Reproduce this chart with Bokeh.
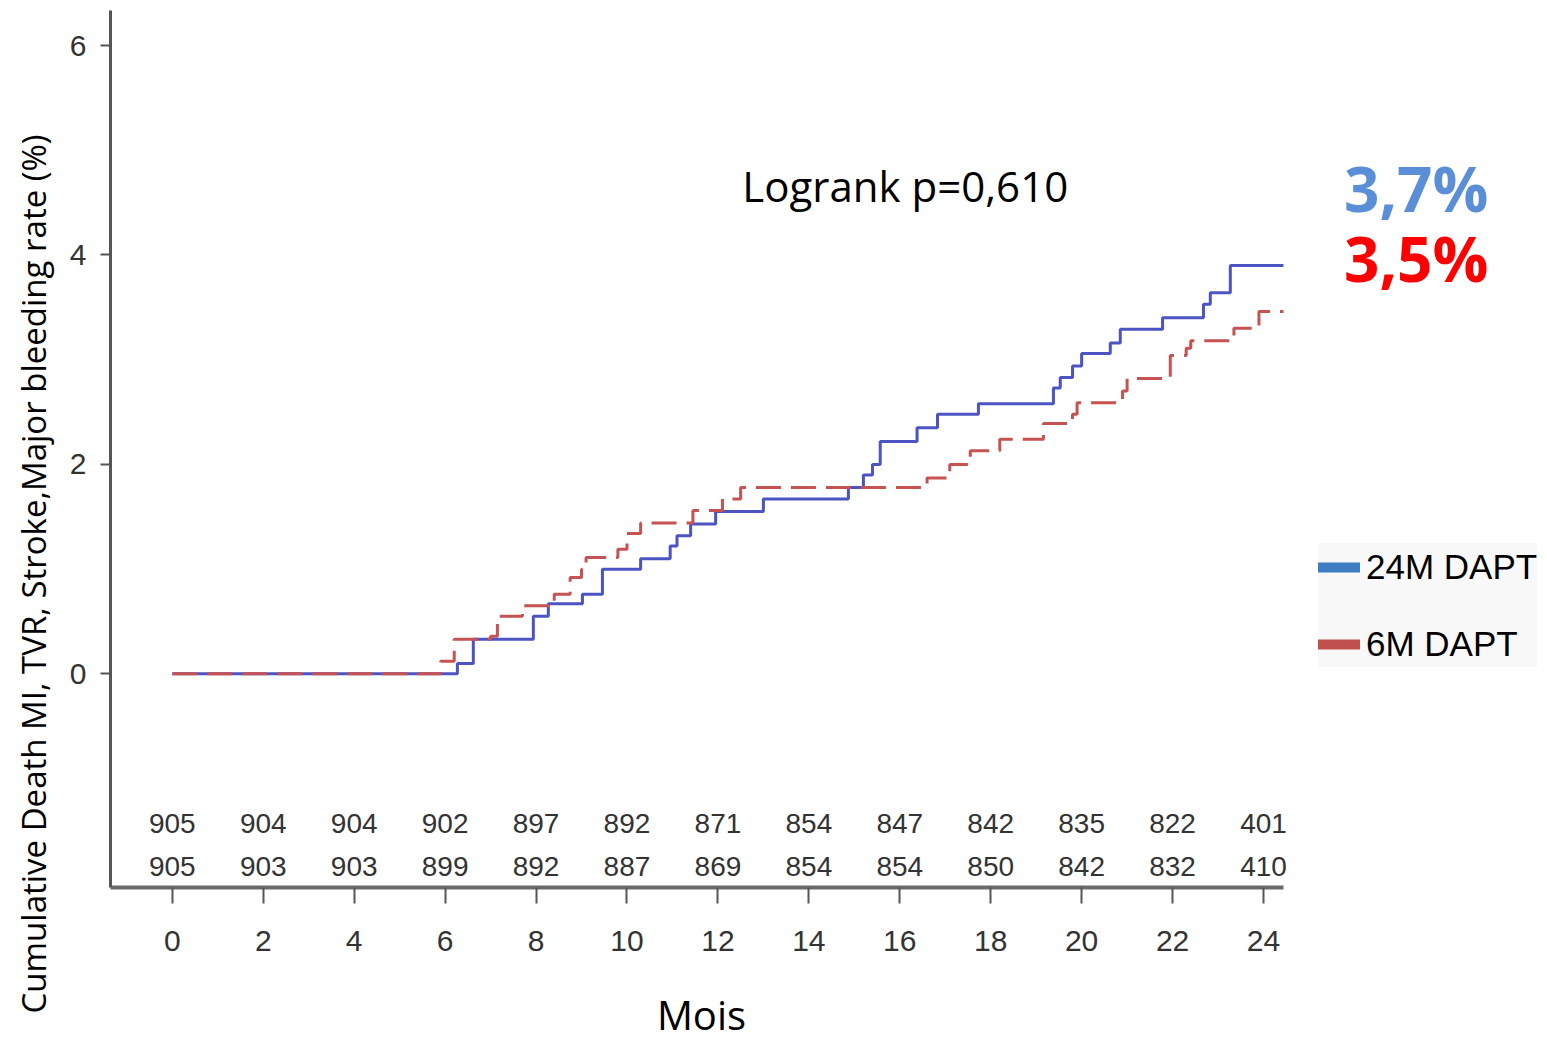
from bokeh.plotting import figure
from bokeh.layouts import row
from bokeh.models import Label, Legend, LegendItem, Range1d, FixedTicker, ColumnDataSource, Title
from bokeh.core.properties import value
from bokeh.embed import file_html
from bokeh.resources import INLINE

# ---- data ----
months_ticks = [0, 2, 4, 6, 8, 10, 12, 14, 16, 18, 20, 22, 24]
y_ticks = [0, 2, 4, 6]

# 24M DAPT (solid blue) Kaplan-Meier step curve: time (months) and cumulative rate (%)
t_24m = [0, 6.27, 6.62, 7.94, 8.27, 9.02, 9.46, 10.3, 10.95, 11.1, 11.4, 11.95, 13.0,
         14.87, 15.2, 15.4, 15.57, 16.38, 16.83, 17.73, 19.38, 19.53, 19.8, 20.0,
         20.63, 20.85, 21.78, 22.68, 22.83, 23.27, 24.44]
y_24m = [0, 0.10, 0.33, 0.55, 0.67, 0.76, 1.0, 1.1, 1.22, 1.32, 1.43, 1.55, 1.67,
         1.78, 1.9, 2.0, 2.22, 2.35, 2.48, 2.58, 2.73, 2.83, 2.94, 3.06,
         3.16, 3.29, 3.40, 3.53, 3.64, 3.90, 3.90]

# 6M DAPT (dashed red)
t_6m = [0, 5.9, 6.2, 7.0, 7.15, 7.7, 8.4, 8.75, 9.0, 9.1, 9.8, 10.0, 10.3, 11.45,
        12.1, 12.5, 16.6, 17.1, 17.55, 18.2, 19.16, 19.8, 19.9, 20.9, 21.0,
        21.95, 22.3, 22.4, 23.35, 23.9, 24.44]
y_6m = [0, 0.12, 0.33, 0.36, 0.55, 0.65, 0.76, 0.92, 1.0, 1.11, 1.19, 1.34, 1.44, 1.56,
        1.67, 1.78, 1.87, 2.0, 2.13, 2.24, 2.39, 2.48, 2.59, 2.70, 2.82,
        3.04, 3.11, 3.18, 3.30, 3.46, 3.46]

# numbers at risk
risk_row1 = ["905", "904", "904", "902", "897", "892", "871", "854", "847", "842", "835", "822", "401"]
risk_row2 = ["905", "903", "903", "899", "892", "887", "869", "854", "854", "850", "842", "832", "410"]

series_names = ["24M DAPT", "6M DAPT"]
final_rates = ["3,7%", "3,5%"]
logrank_text = "Logrank p=0,610"
x_title = "Mois"
y_title = "Cumulative Death MI, TVR, Stroke,Major bleeding rate (%)"

# ---- styling ----
NUMF = "Liberation Sans"
SANS = "Open Sans"
BLUE_LINE = "#4c54c4"
RED_LINE = "#c65252"

X_LO, X_AX_END, X_HI, X_SIDE_HI = -1.36, 24.44, 24.638, 30.25
Y_LO, Y_HI, Y_AX_END = -2.04, 6.43, 6.33

# ================= main chart =================
p = figure(width=1292, height=1044, output_backend="svg", toolbar_location=None,
           x_range=Range1d(X_LO, X_HI), y_range=Range1d(Y_LO, Y_HI),
           min_border_left=110, min_border_right=0, min_border_top=0,
           min_border_bottom=157)
p.outline_line_color = None
p.grid.visible = False
p.background_fill_color = "white"
p.border_fill_color = "white"

p.xaxis.ticker = FixedTicker(ticks=months_ticks)
p.yaxis.ticker = FixedTicker(ticks=y_ticks)
p.xaxis.bounds = (X_LO, X_AX_END)
p.yaxis.bounds = (Y_LO, Y_AX_END)
for ax in (p.xaxis, p.yaxis):
    ax.minor_tick_line_color = None
    ax.major_label_text_font = NUMF
    ax.major_label_text_font_size = "30px"
    ax.major_label_text_color = "#333333"
    ax.major_tick_in = 0
    ax.major_tick_line_width = 2
    ax.major_tick_line_color = "#555555"

p.xaxis.axis_line_width = 4
p.xaxis.axis_line_color = "#6a6a6a"
p.xaxis.major_tick_out = 16
p.xaxis.major_label_standoff = 27
p.xaxis.axis_label = x_title
p.xaxis.axis_label_text_font = SANS
p.xaxis.axis_label_text_font_size = "40px"
p.xaxis.axis_label_text_font_style = "normal"
p.xaxis.axis_label_text_color = "black"
p.xaxis.axis_label_standoff = 33

p.yaxis.axis_line_width = 3
p.yaxis.axis_line_color = "#555555"
p.yaxis.major_tick_out = 10
p.yaxis.major_label_standoff = 14

# y title as a side title, shifted downwards like in the reference
p.add_layout(Title(text=y_title, align="left", offset=-126, standoff=18,
                   vertical_align="top",
                   text_font=SANS, text_font_size="33px", text_font_style="normal",
                   text_color="black"), "left")

# curves
src_24 = ColumnDataSource(dict(t=t_24m, y=y_24m))
src_6 = ColumnDataSource(dict(t=t_6m, y=y_6m))
p.step("t", "y", source=src_24, mode="after", line_color=BLUE_LINE, line_width=3)
p.step("t", "y", source=src_6, mode="after", line_color=RED_LINE, line_width=3,
       line_dash="25 10")

# numbers at risk
p.text(x=months_ticks, y=[-1.43] * len(months_ticks), text=risk_row1,
       text_font=value(NUMF), text_font_size="28px", text_color="#333333",
       text_align="center", text_baseline="middle")
p.text(x=months_ticks, y=[-1.84] * len(months_ticks), text=risk_row2,
       text_font=value(NUMF), text_font_size="28px", text_color="#333333",
       text_align="center", text_baseline="middle")

p.add_layout(Label(x=16.12, y=4.66, text=logrank_text, text_font=SANS,
                   text_font_size="42px", text_color="black",
                   text_align="center", text_baseline="middle"))

# ================= right-hand side: final rates + legend =================
side = figure(width=255, height=1044, output_backend="svg", toolbar_location=None,
              x_range=Range1d(X_HI, X_SIDE_HI), y_range=p.y_range,
              x_axis_location=None, y_axis_location=None,
              min_border_left=0, min_border_right=0, min_border_top=0,
              min_border_bottom=157)
side.outline_line_color = None
side.grid.visible = False
side.background_fill_color = "white"
side.border_fill_color = "white"

side.add_layout(Label(x=27.36, y=4.64, text=final_rates[0], text_font=SANS,
                      text_font_style="bold", text_font_size="62px", text_color="#5a8fd8",
                      text_align="center", text_baseline="middle"))
side.add_layout(Label(x=27.36, y=3.97, text=final_rates[1], text_font=SANS,
                      text_font_style="bold", text_font_size="62px", text_color="#ff0000",
                      text_align="center", text_baseline="middle"))

nan = float("nan")
lg_b = side.line(x=[nan], y=[nan], line_color="#3f7dc2", line_width=10, line_cap="round")
lg_r = side.line(x=[nan], y=[nan], line_color="#c0504d", line_width=10, line_cap="round")
legend = Legend(items=[LegendItem(label=series_names[0], renderers=[lg_b]),
                       LegendItem(label=series_names[1], renderers=[lg_r])],
                location=(26, 220), orientation="vertical")
legend.label_text_font = NUMF
legend.label_text_font_size = "35px"
legend.label_text_color = "black"
legend.glyph_width = 42
legend.glyph_height = 20
legend.label_height = 47
legend.label_standoff = 6
legend.spacing = 30
legend.padding = 8
legend.margin = 0
legend.background_fill_color = "#f8f8f8"
legend.background_fill_alpha = 1.0
legend.border_line_color = None
side.add_layout(legend, "center")

layout = row(p, side)
open("out.html", "w").write(file_html(layout, INLINE))
